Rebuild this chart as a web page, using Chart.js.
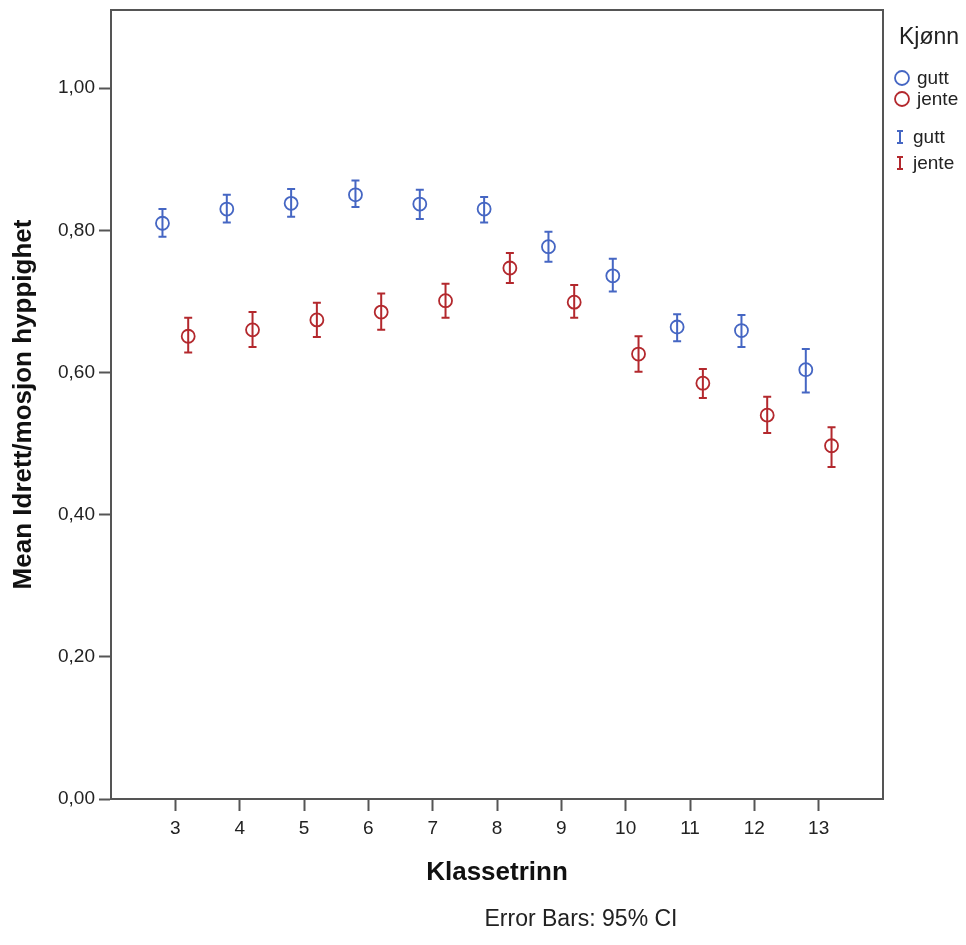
<!DOCTYPE html>
<html>
<head>
<meta charset="utf-8">
<script src="https://cdn.jsdelivr.net/npm/chart.js@4.4.1/dist/chart.umd.min.js"></script>
<style>
  html, body { margin: 0; padding: 0; background: #fff; }
  canvas { display: block; }
</style>
</head>
<body>
<canvas id="ciChart" width="966" height="945"></canvas>
<script>
var grades = [3, 4, 5, 6, 7, 8, 9, 10, 11, 12, 13];

var guttMean = [0.810, 0.830, 0.838, 0.850, 0.837, 0.830, 0.777, 0.736, 0.664, 0.659, 0.604];
var guttLow  = [0.791, 0.811, 0.819, 0.833, 0.816, 0.811, 0.756, 0.714, 0.644, 0.636, 0.572];
var guttHigh = [0.830, 0.850, 0.858, 0.870, 0.857, 0.847, 0.798, 0.760, 0.682, 0.681, 0.633];

var jenteMean = [0.651, 0.660, 0.674, 0.685, 0.701, 0.747, 0.699, 0.626, 0.585, 0.540, 0.497];
var jenteLow  = [0.628, 0.636, 0.650, 0.660, 0.677, 0.726, 0.677, 0.601, 0.564, 0.515, 0.467];
var jenteHigh = [0.677, 0.685, 0.698, 0.711, 0.725, 0.768, 0.723, 0.651, 0.605, 0.566, 0.523];

var yTicks = [0, 0.2, 0.4, 0.6, 0.8, 1.0];
var xTicks = grades;
var seriesNames = ["gutt", "jente"];
var legendTitle = "Kjønn";
var footnote = "Error Bars: 95% CI";

var blue = "#4566c3";
var red = "#b3282d";
var family = "'Liberation Sans', Arial, sans-serif";

function points(mean, low, high, shift) {
  return grades.map(function (g, i) {
    return { x: g + shift, y: mean[i], low: low[i], high: high[i] };
  });
}

// draws the 95% CI whiskers through each circle
var errorBars = {
  id: "errorBars",
  afterDatasetsDraw: function (chart) {
    var ctx = chart.ctx, xs = chart.scales.x, ys = chart.scales.y;
    chart.data.datasets.forEach(function (ds) {
      ctx.save();
      ctx.strokeStyle = ds.borderColor;
      ctx.lineWidth = 2;
      ds.data.forEach(function (p) {
        var px = xs.getPixelForValue(p.x);
        var top = ys.getPixelForValue(p.high);
        var bot = ys.getPixelForValue(p.low);
        ctx.beginPath();
        ctx.moveTo(px, top); ctx.lineTo(px, bot);
        ctx.moveTo(px - 4, top); ctx.lineTo(px + 4, top);
        ctx.moveTo(px - 4, bot); ctx.lineTo(px + 4, bot);
        ctx.stroke();
      });
      ctx.restore();
    });
  }
};

// frame, legend and footnote
var extras = {
  id: "extras",
  afterDraw: function (chart) {
    var ctx = chart.ctx, a = chart.chartArea;
    var colors = [blue, red];
    ctx.save();
    ctx.strokeStyle = "#555";
    ctx.lineWidth = 2;
    ctx.strokeRect(a.left, a.top, a.right - a.left, a.bottom - a.top);

    ctx.textBaseline = "middle";
    ctx.textAlign = "left";
    ctx.fillStyle = "#222";
    ctx.font = "23px " + family;
    ctx.fillText(legendTitle, 899, 38);

    ctx.font = "19px " + family;
    seriesNames.forEach(function (name, i) {
      var cy = 78 + i * 21;
      ctx.strokeStyle = colors[i];
      ctx.lineWidth = 1.8;
      ctx.beginPath();
      ctx.arc(902, cy, 7, 0, Math.PI * 2);
      ctx.stroke();
      ctx.fillStyle = "#222";
      ctx.fillText(name, 917, cy + 1);
    });
    seriesNames.forEach(function (name, i) {
      var cy = 137 + i * 26;
      ctx.strokeStyle = colors[i];
      ctx.lineWidth = 2;
      ctx.beginPath();
      ctx.moveTo(900, cy - 6); ctx.lineTo(900, cy + 6);
      ctx.moveTo(897, cy - 6); ctx.lineTo(903, cy - 6);
      ctx.moveTo(897, cy + 6); ctx.lineTo(903, cy + 6);
      ctx.stroke();
      ctx.fillStyle = "#222";
      ctx.fillText(name, 913, cy + 1);
    });

    ctx.textAlign = "center";
    ctx.font = "23px " + family;
    ctx.fillStyle = "#222";
    ctx.fillText(footnote, 581, 920);
    ctx.restore();
  }
};

new Chart(document.getElementById("ciChart"), {
  type: "scatter",
  data: {
    datasets: [{
      label: seriesNames[0],
      data: points(guttMean, guttLow, guttHigh, -0.2),
      borderColor: blue,
      backgroundColor: "rgba(0,0,0,0)",
      pointRadius: 6.5,
      pointBorderWidth: 1.8,
      pointHoverRadius: 6.5
    }, {
      label: seriesNames[1],
      data: points(jenteMean, jenteLow, jenteHigh, 0.2),
      borderColor: red,
      backgroundColor: "rgba(0,0,0,0)",
      pointRadius: 6.5,
      pointBorderWidth: 1.8,
      pointHoverRadius: 6.5
    }]
  },
  options: {
    responsive: false,
    animation: false,
    devicePixelRatio: 1,
    layout: { padding: { top: 10, right: 83, left: 0, bottom: 0 } },
    plugins: {
      legend: { display: false },
      tooltip: { enabled: false }
    },
    scales: {
      x: {
        type: "linear",
        min: 2,
        max: 14,
        afterBuildTicks: function (scale) {
          scale.ticks = xTicks.map(function (v) { return { value: v }; });
        },
        afterFit: function (scale) {
          scale.height = 146;
          scale.paddingLeft = 0;
          scale.paddingRight = 0;
        },
        grid: { drawOnChartArea: false, drawTicks: true, tickLength: 12, tickWidth: 2, tickColor: "#555" },
        border: { display: true, color: "#555", width: 2 },
        ticks: { color: "#222", font: { family: family, size: 19 }, padding: 6, maxRotation: 0 },
        title: {
          display: true,
          text: "Klassetrinn",
          color: "#111",
          font: { family: family, size: 26, weight: "bold", lineHeight: 1 },
          padding: { top: 0, bottom: 59 }
        }
      },
      y: {
        type: "linear",
        min: 0,
        max: 1.11,
        afterBuildTicks: function (scale) {
          scale.ticks = yTicks.map(function (v) { return { value: v }; });
        },
        afterFit: function (scale) {
          scale.width = 111;
          scale.paddingTop = 0;
          scale.paddingBottom = 0;
        },
        grid: { drawOnChartArea: false, drawTicks: true, tickLength: 12, tickWidth: 2, tickColor: "#555" },
        border: { display: true, color: "#555", width: 2 },
        ticks: {
          color: "#222",
          font: { family: family, size: 19 },
          padding: 4,
          callback: function (v) { return v.toFixed(2).replace(".", ","); }
        },
        title: {
          display: true,
          text: "Mean Idrett/mosjon hyppighet",
          color: "#111",
          font: { family: family, size: 26, weight: "bold", lineHeight: 1 },
          padding: { top: 11, bottom: 0 }
        }
      }
    }
  },
  plugins: [errorBars, extras]
});
</script>
</body>
</html>
